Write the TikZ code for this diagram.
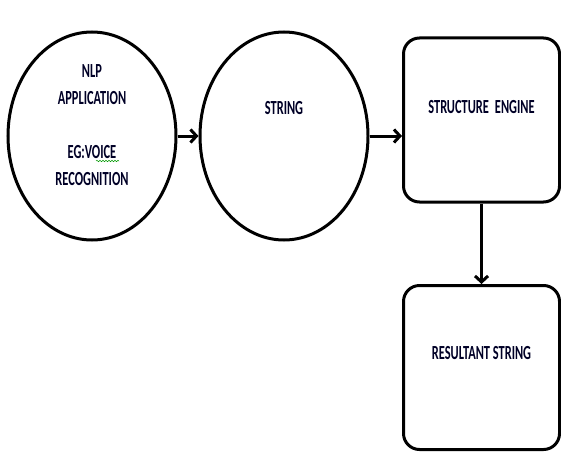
\documentclass[tikz,border=0pt]{standalone}
\usepackage{fontspec}
\newfontfamily\diafont[FakeStretch=0.62]{Carlito}
\usetikzlibrary{arrows.meta,shapes.geometric,decorations.pathmorphing,positioning}

\begin{document}
\begin{tikzpicture}[x=1pt,y=-1pt,line width=3pt,
    >={Straight Barb[length=6pt,width=13pt]}]
  \tikzstyle{every node}=[font=\diafont\bfseries\fontsize{20}{27}\selectfont,inner sep=0pt]
  \tikzstyle{bubble}=[draw,ellipse,minimum width=168pt,minimum height=208pt]
  \tikzstyle{block}=[draw,rectangle,rounded corners=16pt,minimum width=156pt,minimum height=164pt]
  \tikzstyle{caption}=[align=center,text=black!85!blue]

  \useasboundingbox (0,0) rectangle (561,452);

  \node[bubble] (app) at (92,136) {};
  \node[bubble] (str) at (284,136) {};
  \node[block]  (eng) at (481.5,120) {};
  \node[block]  (res) at (481.5,367.5) {};

  \node[caption] (app text) at ([yshift=11pt]app.center) {NLP\\APPLICATION\\\strut\\EG:VOICE\\RECOGNITION};
  \node[caption] (str text) at ([yshift=28pt]str.center) {STRING};
  \node[caption] (eng text) at ([yshift=13pt]eng.center) {STRUCTURE\hspace{0.3em}ENGINE};
  \node[caption] (res text) at ([yshift=14pt]res.center) {RESULTANT STRING};

  % spell check squiggle
  \coordinate (sq a) at (96,161);
  \coordinate (sq b) at (119,161);
  \draw[green!60!black,line width=0.5pt,decorate,
        decoration={snake,amplitude=0.7pt,segment length=3pt}] (sq a) -- (sq b);

  \path[->]
  (app) edge [] node {} (str)
  (str.east) edge [] node {} (str.east -| eng.west)
  (eng) edge [] node {} (res);
\end{tikzpicture}
\end{document}
